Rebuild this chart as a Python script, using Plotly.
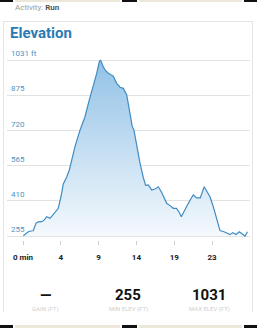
import plotly.graph_objects as go

W, H = 257, 331

# ---- data (minutes, feet) ----
minutes = [0.04, 0.38, 0.67, 1.0, 1.29, 1.63, 1.88, 2.35, 2.68, 2.98, 3.39, 3.64, 4.02, 4.43,
           4.77, 5.06, 5.49, 5.82, 6.12, 6.53, 7.16, 7.79, 8.33, 8.83, 9.26, 9.59, 9.74,
           10.05, 10.3, 10.68, 10.93, 11.34, 11.77, 12.19, 12.6, 13.03, 13.44, 13.73, 13.94,
           14.28, 14.7, 15.11, 15.41, 15.74, 16.17, 16.58, 17.0, 17.42, 17.71, 18.05, 18.47,
           18.88, 19.28, 19.6, 19.89, 20.35, 20.77, 21.04, 21.39, 21.82, 22.27, 22.76, 23.18,
           23.49, 23.91, 24.33, 24.75, 25.25, 25.67, 26.0, 26.34, 26.76, 27.17, 27.6, 27.89, 28.2]
elev_ft = [256, 264, 274, 277, 278, 311, 317, 318, 326, 340, 333, 343, 362, 377,
           428, 484, 515, 546, 590, 649, 722, 781, 855, 913, 972, 1024, 1031,
           1005, 987, 974, 969, 960, 928, 911, 906, 877, 796, 737, 722,
           649, 576, 513, 478, 480, 458, 462, 472, 447, 423, 399, 389,
           377, 377, 361, 340, 374, 399, 416, 436, 423, 423, 472, 450,
           428, 384, 326, 279, 274, 267, 261, 270, 262, 274, 264, 255, 274]

y_ticks = [255, 410, 565, 720, 875, 1031]
y_tick_labels = ["255", "410", "565", "720", "875", "1031 ft"]
x_ticks = [0, 4.75, 9.5, 14.25, 19, 23.75]
x_tick_labels = ["0 min", "4", "9", "14", "19", "23"]

stat_values = ["—", "255", "1031"]
stat_labels = ["GAIN (FT)", "MIN ELEV (FT)", "MAX ELEV (FT)"]

# ---- geometry helpers (pixel -> paper) ----
def px(x):
    return x / W

def py(y):
    return 1 - y / H

# x axis: pixel 7..250, 0 min at px 23, 7.96 px/min
ppm = 7.96
x_lo = (7 - 23) / ppm
x_hi = (250 - 23) / ppm
# y axis: 255 at px 236, 1031 at px 60
k = (236 - 60) / (1031 - 255)
y_top_px, y_bot_px = 58, 240
y_hi = 1031 + (60 - y_top_px) / k
y_lo = 255 - (y_bot_px - 236) / k

base = [min(y_ticks)] * len(minutes)

fig = go.Figure()
fig.add_trace(go.Scatter(x=minutes, y=base, mode="lines", line=dict(width=0),
                         hoverinfo="skip", showlegend=False))
fig.add_trace(go.Scatter(
    x=minutes, y=elev_ft, mode="lines",
    line=dict(color="#3f8cc3", width=1.2),
    fill="tonexty",
    fillgradient=dict(type="vertical",
                      colorscale=[[0, "rgba(244,249,253,1)"], [1, "rgba(146,194,230,1)"]]),
    showlegend=False, hoverinfo="skip"))

fig.update_layout(
    width=W, height=H, margin=dict(l=0, r=0, t=0, b=0),
    paper_bgcolor="white", plot_bgcolor="white", showlegend=False,
    xaxis=dict(domain=[px(7), px(250)], range=[x_lo, x_hi], showgrid=False, zeroline=False,
               showline=False, tickmode="array", tickvals=x_ticks, ticktext=x_tick_labels,
               ticks="outside", ticklen=4, tickcolor="#cfcfcf", tickwidth=1,
               ticklabelstandoff=5,
               tickfont=dict(family="Roboto", size=8, color="#222222", weight="bold")),
    yaxis=dict(domain=[py(y_bot_px), py(y_top_px)], range=[y_lo, y_hi], showgrid=True,
               gridcolor="#e2e2e2", gridwidth=1, zeroline=False, showline=False,
               tickmode="array", tickvals=y_ticks, showticklabels=False),
)

annotations = []
for v, t in zip(y_ticks, y_tick_labels):
    annotations.append(dict(x=px(9), y=v, xref="paper", yref="y", text=t, showarrow=False,
                            xanchor="left", yanchor="bottom", yshift=0,
                            font=dict(family="Roboto", size=8, color="#4d93c4")))

annotations.append(dict(x=px(8), y=py(33), xref="paper", yref="paper", text="<b>Elevation</b>",
                        showarrow=False, xanchor="left", yanchor="middle",
                        font=dict(family="Roboto", size=15, color="#2a7bb4")))
annotations.append(dict(x=px(13), y=py(7), xref="paper", yref="paper",
                        text="<span style='color:#9a9a9a'>Activity:</span> <b><span style='color:#555'>Run</span></b>",
                        showarrow=False, xanchor="left", yanchor="middle",
                        font=dict(family="Roboto", size=8, color="#999")))

stat_x = [45, 128, 209]
for sx, v, lab in zip(stat_x, stat_values, stat_labels):
    annotations.append(dict(x=px(sx), y=py(295), xref="paper", yref="paper", text="<b>%s</b>" % v,
                            showarrow=False, xanchor="center", yanchor="middle",
                            font=dict(family="Roboto", size=15, color="#111111")))
    annotations.append(dict(x=px(sx), y=py(309), xref="paper", yref="paper", text=lab,
                            showarrow=False, xanchor="center", yanchor="middle",
                            font=dict(family="Roboto", size=6, color="#cfcfcf")))

fig.update_layout(annotations=annotations)

shapes = []
def rect(x0, y0, x1, y1, color):
    shapes.append(dict(type="rect", xref="paper", yref="paper", x0=px(x0), x1=px(x1),
                       y0=py(y1), y1=py(y0), fillcolor=color, line=dict(width=0), layer="above"))

def line(x0, y0, x1, y1, color):
    shapes.append(dict(type="line", xref="paper", yref="paper", x0=px(x0), x1=px(x1),
                       y0=py(y0), y1=py(y1), line=dict(color=color, width=1), layer="above"))

for yy0, yy1 in [(0, 2), (325, 328)]:
    rect(0, yy0, 13, yy1, "#111111")
    rect(15, yy0, 120, yy1, "#ece7d8")
    rect(122, yy0, 137, yy1, "#111111")
    rect(139, yy0, 242, yy1, "#ece7d8")
    rect(244, yy0, 257, yy1, "#111111")

line(3.5, 21, 3.5, 312, "#e4e4e4")
line(252.5, 21, 252.5, 312, "#e4e4e4")
line(3.5, 21.5, 252.5, 21.5, "#e4e4e4")

fig.update_layout(shapes=shapes)
fig.write_html("out.html")
